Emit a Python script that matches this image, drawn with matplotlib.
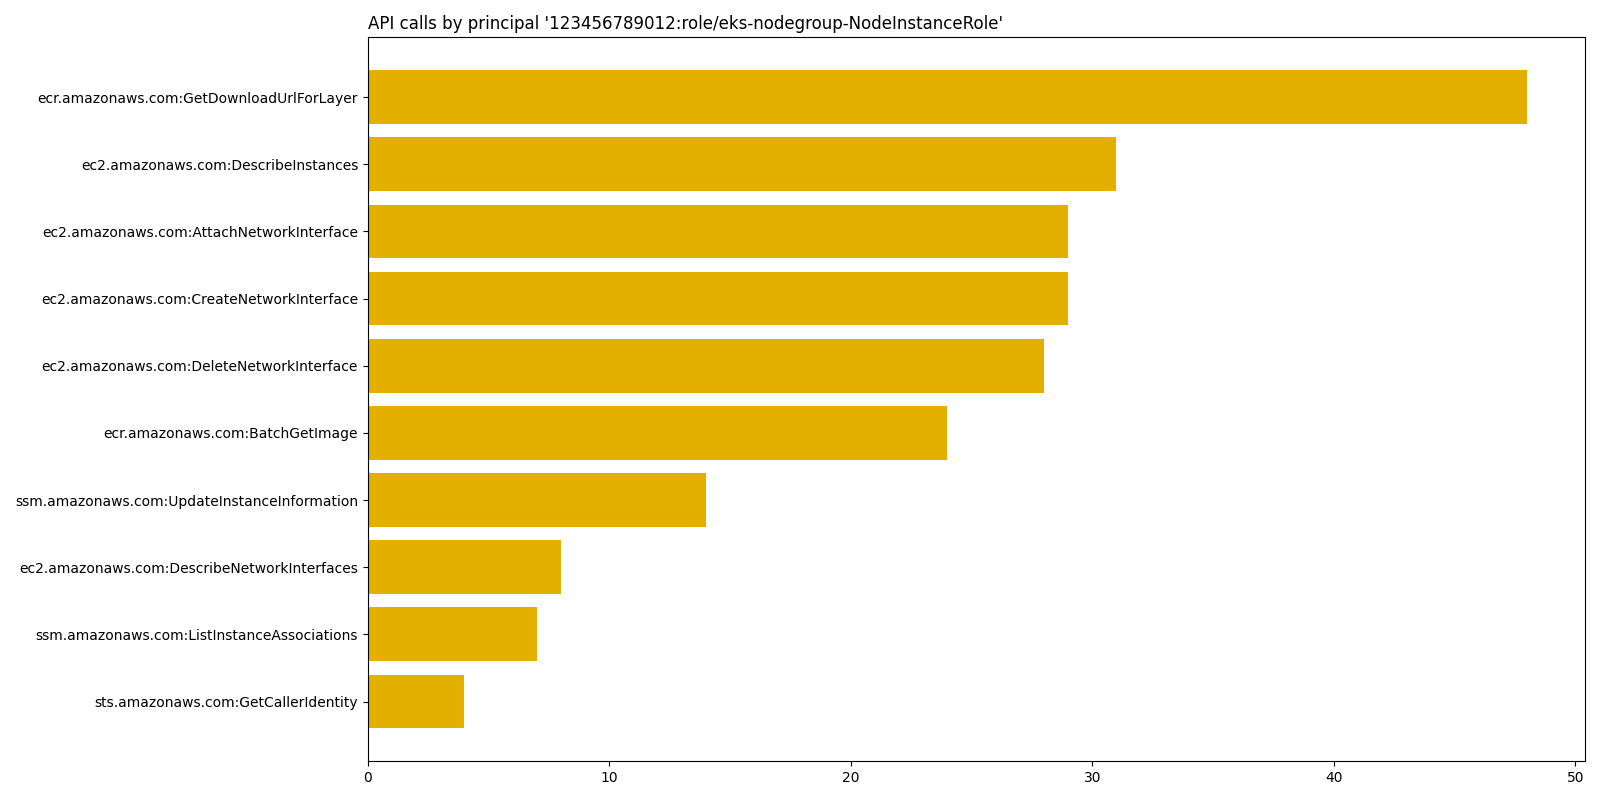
import matplotlib
matplotlib.use("Agg")
import matplotlib.pyplot as plt

## API call names and counts
calls = ["ecr.amazonaws.com:GetDownloadUrlForLayer",
         "ec2.amazonaws.com:DescribeInstances",
         "ec2.amazonaws.com:AttachNetworkInterface",
         "ec2.amazonaws.com:CreateNetworkInterface",
         "ec2.amazonaws.com:DeleteNetworkInterface",
         "ecr.amazonaws.com:BatchGetImage",
         "ssm.amazonaws.com:UpdateInstanceInformation",
         "ec2.amazonaws.com:DescribeNetworkInterfaces",
         "ssm.amazonaws.com:ListInstanceAssociations",
         "sts.amazonaws.com:GetCallerIdentity"]
counts = [48, 31, 29, 29, 28, 24, 14, 8, 7, 4]

fig, ax = plt.subplots(figsize=(16, 8), dpi=100)
ax.barh(calls[::-1], counts[::-1], color="#e3b000")
ax.set_title("API calls by principal '123456789012:role/eks-nodegroup-NodeInstanceRole'", loc="left")
plt.tight_layout()
plt.savefig("out.png")
plt.close()
